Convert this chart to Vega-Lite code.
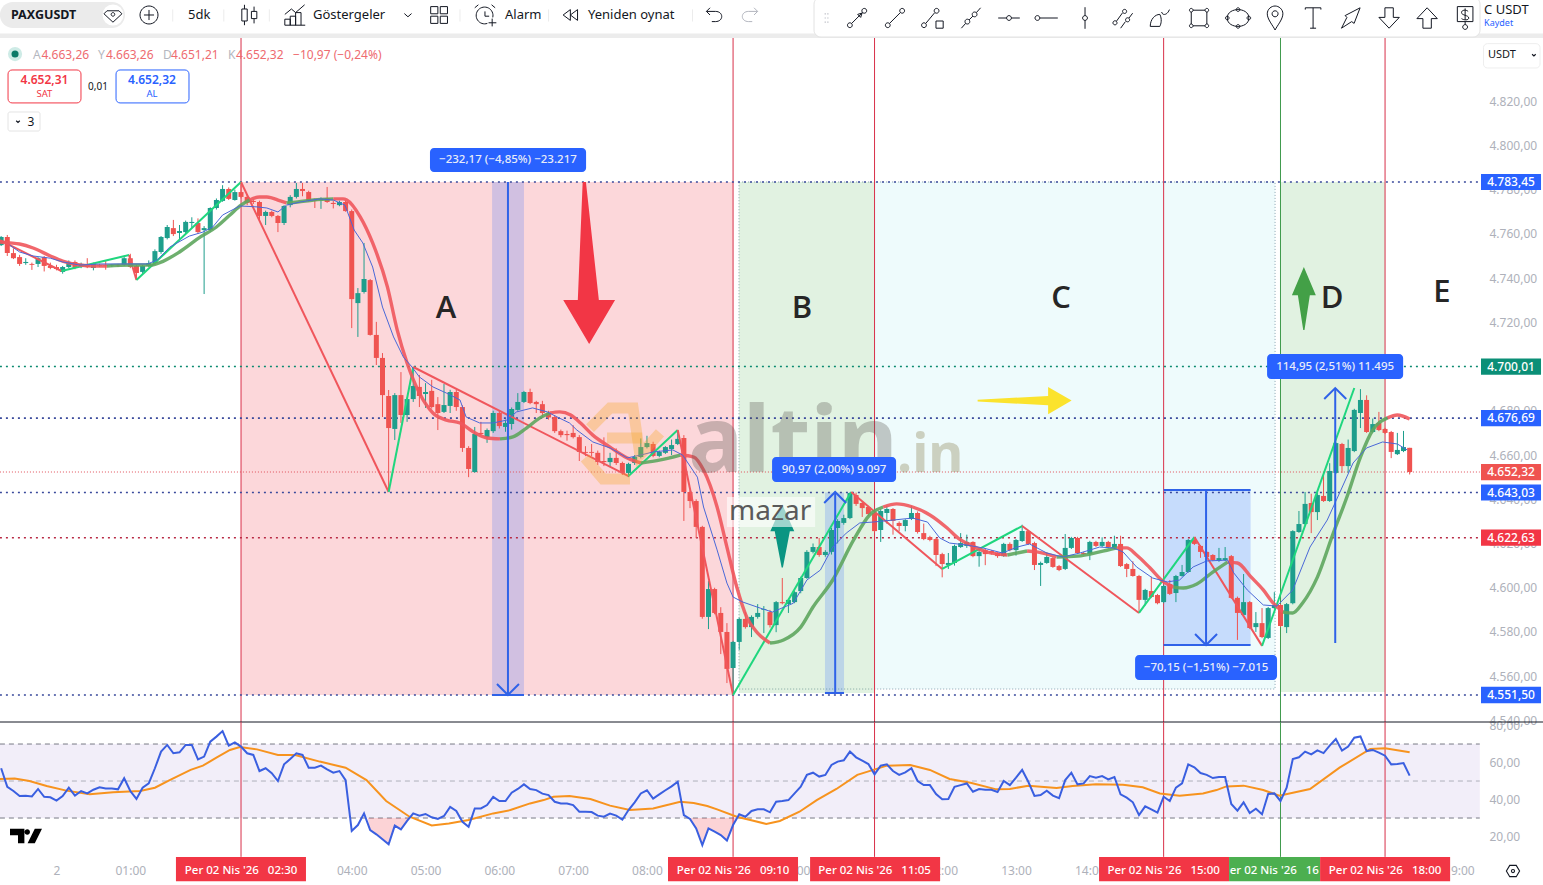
{"$schema":"https://vega.github.io/schema/vega-lite/v6.json","width":1543,"height":885,"autosize":{"type":"none"},"padding":0,"background":"white",
"config":{"view":{"stroke":null},"text":{"font":"Noto Sans"},"axis":{"labelFont":"Noto Sans"}},
"datasets":{
"candles":[
{"m":-45,"o":4754.9,"h":4759,"l":4754.5,"c":4758.6},{"m":-40,"o":4758.6,"h":4759.5,"l":4750,"c":4751.3},{"m":-35,"o":4751.3,"h":4753.5,"l":4748.6,"c":4749},{"m":-30,"o":4749.5,"h":4750.5,"l":4745.5,"c":4746.4},{"m":-25,"o":4746.8,"h":4749,"l":4746,"c":4747.3},{"m":-20,"o":4746.4,"h":4747,"l":4743.7,"c":4746},{"m":-15,"o":4746.4,"h":4749.5,"l":4745,"c":4749},{"m":-10,"o":4749.5,"h":4750,"l":4743,"c":4745.5},{"m":-5,"o":4745.5,"h":4747,"l":4744,"c":4744.6},{"m":0,"o":4745,"h":4746,"l":4743.5,"c":4744.1},
{"m":5,"o":4742.8,"h":4745.5,"l":4742,"c":4745},{"m":10,"o":4745,"h":4748,"l":4744.5,"c":4747.3},{"m":15,"o":4747.3,"h":4748,"l":4744,"c":4744.6},{"m":20,"o":4745,"h":4747,"l":4744.5,"c":4746.4},{"m":25,"o":4746.4,"h":4749,"l":4744.5,"c":4745},{"m":30,"o":4744.6,"h":4747,"l":4743.5,"c":4746.4},{"m":35,"o":4745.5,"h":4746.5,"l":4745,"c":4745.8},{"m":40,"o":4745.8,"h":4748,"l":4743.8,"c":4745.5},{"m":45,"o":4745.5,"h":4746.3,"l":4745,"c":4745.7},{"m":50,"o":4745.7,"h":4746.4,"l":4745,"c":4745.4},
{"m":55,"o":4746,"h":4749.5,"l":4745.5,"c":4749},{"m":60,"o":4749,"h":4751,"l":4744.5,"c":4745},{"m":65,"o":4745.5,"h":4746,"l":4739.1,"c":4742.3},{"m":70,"o":4742.8,"h":4746,"l":4742,"c":4745.5},{"m":75,"o":4745.5,"h":4748,"l":4745,"c":4746.8},{"m":80,"o":4746.8,"h":4753,"l":4746,"c":4752.2},{"m":85,"o":4751.8,"h":4759,"l":4751,"c":4758.6},{"m":90,"o":4758.1,"h":4764,"l":4757.5,"c":4763.1},{"m":95,"o":4762.6,"h":4766.3,"l":4759,"c":4759.9},{"m":100,"o":4760.4,"h":4764,"l":4757.6,"c":4761.3},
{"m":105,"o":4760.8,"h":4766,"l":4760,"c":4765.4},{"m":110,"o":4764.9,"h":4767.5,"l":4762.7,"c":4765.4},{"m":115,"o":4764.9,"h":4767,"l":4760,"c":4760.8},{"m":120,"o":4761.7,"h":4763.5,"l":4732.8,"c":4762.6},{"m":125,"o":4761.7,"h":4772,"l":4761,"c":4771.7},{"m":130,"o":4771.7,"h":4776,"l":4771,"c":4775.3},{"m":135,"o":4774.9,"h":4782,"l":4774.5,"c":4780.3},{"m":140,"o":4780.3,"h":4781,"l":4775.3,"c":4775.8},{"m":145,"o":4775.3,"h":4780,"l":4775,"c":4778.9},{"m":150,"o":4778.9,"h":4783.4,"l":4776,"c":4776.7},
{"m":155,"o":4776.7,"h":4778,"l":4773,"c":4774},{"m":160,"o":4774.9,"h":4775.5,"l":4773.5,"c":4774.4},{"m":165,"o":4774.4,"h":4775,"l":4766,"c":4768.1},{"m":170,"o":4768.1,"h":4770.5,"l":4764,"c":4769.9},{"m":175,"o":4769.9,"h":4770.5,"l":4767.5,"c":4768.1},{"m":180,"o":4768.1,"h":4768.5,"l":4760.8,"c":4764.9},{"m":185,"o":4764.9,"h":4773,"l":4764,"c":4772.6},{"m":190,"o":4773,"h":4777.5,"l":4772,"c":4776.7},{"m":195,"o":4776.7,"h":4783,"l":4776,"c":4780.3},{"m":200,"o":4780.3,"h":4783,"l":4777,"c":4779.4},
{"m":205,"o":4778.9,"h":4779.5,"l":4774.5,"c":4774.9},{"m":210,"o":4775.3,"h":4776,"l":4771.7,"c":4774.9},{"m":215,"o":4775.3,"h":4776.5,"l":4771.3,"c":4775.8},{"m":220,"o":4776.2,"h":4781.2,"l":4774,"c":4774.4},{"m":225,"o":4774,"h":4775,"l":4771.5,"c":4773.5},{"m":230,"o":4773,"h":4775,"l":4772.5,"c":4774.4},{"m":235,"o":4774.4,"h":4775,"l":4770,"c":4770.3},{"m":240,"o":4770.3,"h":4771,"l":4717.4,"c":4730.5},{"m":245,"o":4728.7,"h":4735.5,"l":4713.4,"c":4733.2},{"m":250,"o":4733.7,"h":4755.9,"l":4733,"c":4739.6},
{"m":255,"o":4739.1,"h":4739.6,"l":4714,"c":4714.3},{"m":260,"o":4714.3,"h":4720.2,"l":4700.7,"c":4703.9},{"m":265,"o":4703.9,"h":4706.1,"l":4677.2,"c":4687.1},{"m":270,"o":4686.7,"h":4689.4,"l":4643.3,"c":4672.2},{"m":275,"o":4671.8,"h":4688,"l":4666.8,"c":4687.1},{"m":280,"o":4687.1,"h":4697.5,"l":4674.5,"c":4678.1},{"m":285,"o":4678.1,"h":4686,"l":4675,"c":4685.3},{"m":290,"o":4685.3,"h":4699.8,"l":4684,"c":4691.2},{"m":295,"o":4690.8,"h":4696.2,"l":4681.7,"c":4686.7},{"m":300,"o":4687.6,"h":4692.5,"l":4681.3,"c":4688.5},
{"m":305,"o":4689,"h":4694,"l":4681,"c":4681.7},{"m":310,"o":4683,"h":4686.2,"l":4671.3,"c":4679},{"m":315,"o":4679.5,"h":4692.1,"l":4679,"c":4682.6},{"m":320,"o":4682.2,"h":4689.5,"l":4679,"c":4688.5},{"m":325,"o":4688.5,"h":4689.5,"l":4680,"c":4681.7},{"m":330,"o":4681.7,"h":4682.5,"l":4661.4,"c":4663.2},{"m":335,"o":4663.2,"h":4664,"l":4650,"c":4653.7},{"m":340,"o":4652.3,"h":4672.7,"l":4652,"c":4669.5},{"m":345,"o":4670,"h":4675,"l":4669,"c":4669.5},{"m":350,"o":4668.1,"h":4672,"l":4665.5,"c":4671.3},
{"m":355,"o":4670.8,"h":4680,"l":4670,"c":4679},{"m":360,"o":4679,"h":4680,"l":4672,"c":4673.1},{"m":365,"o":4672.7,"h":4676,"l":4670.5,"c":4674.5},{"m":370,"o":4674,"h":4681.5,"l":4671.5,"c":4680.8},{"m":375,"o":4680.4,"h":4688,"l":4680,"c":4684},{"m":380,"o":4684,"h":4689,"l":4683.5,"c":4688.5},{"m":385,"o":4688.5,"h":4690,"l":4683,"c":4683.5},{"m":390,"o":4684,"h":4684.5,"l":4679,"c":4683},{"m":395,"o":4683,"h":4684.5,"l":4677,"c":4679},{"m":400,"o":4679,"h":4680,"l":4676,"c":4677},
{"m":405,"o":4677.2,"h":4678,"l":4670,"c":4670.8},{"m":410,"o":4670.8,"h":4671.5,"l":4668,"c":4669},{"m":415,"o":4669.5,"h":4671,"l":4666.5,"c":4669},{"m":420,"o":4670,"h":4673.5,"l":4667.5,"c":4668.1},{"m":425,"o":4668.1,"h":4669,"l":4657.3,"c":4661.4},{"m":430,"o":4661.4,"h":4664,"l":4659.5,"c":4661},{"m":435,"o":4661.4,"h":4665,"l":4659.5,"c":4661},{"m":440,"o":4661,"h":4662,"l":4655.5,"c":4656.8},{"m":445,"o":4657.3,"h":4668,"l":4655,"c":4656.8},{"m":450,"o":4656.8,"h":4661,"l":4654.5,"c":4658.7},
{"m":455,"o":4658.7,"h":4663,"l":4655.5,"c":4656.4},{"m":460,"o":4656.4,"h":4657,"l":4651,"c":4651.9},{"m":465,"o":4651.9,"h":4656.5,"l":4650,"c":4656},{"m":470,"o":4656.4,"h":4660,"l":4655.5,"c":4659.1},{"m":475,"o":4659.1,"h":4667.5,"l":4658.5,"c":4663.6},{"m":480,"o":4663.6,"h":4668.7,"l":4663,"c":4665.4},{"m":485,"o":4665,"h":4666,"l":4659,"c":4659.6},{"m":490,"o":4659.6,"h":4662,"l":4659,"c":4661.4},{"m":495,"o":4661,"h":4664,"l":4660.5,"c":4663.6},{"m":500,"o":4662.7,"h":4667,"l":4660,"c":4664.5},
{"m":505,"o":4665,"h":4671.3,"l":4664.5,"c":4667.3},{"m":510,"o":4667.7,"h":4669,"l":4630.2,"c":4643.3},{"m":515,"o":4643.3,"h":4644,"l":4636,"c":4639.2},{"m":520,"o":4639.2,"h":4640,"l":4622.5,"c":4627.5},{"m":525,"o":4627.5,"h":4628,"l":4586,"c":4586.8},{"m":530,"o":4586.8,"h":4603,"l":4581.3,"c":4599.4},{"m":535,"o":4599.4,"h":4600,"l":4588,"c":4588.6},{"m":540,"o":4588.6,"h":4591.2,"l":4570,"c":4580},{"m":545,"o":4580,"h":4584,"l":4556.9,"c":4563.3},{"m":550,"o":4563.7,"h":4576,"l":4551.5,"c":4575.5},
{"m":555,"o":4575.5,"h":4586.5,"l":4571.9,"c":4585.9},{"m":560,"o":4585.9,"h":4589,"l":4581.5,"c":4582.2},{"m":565,"o":4582.2,"h":4587.5,"l":4577.7,"c":4586.8},{"m":570,"o":4586.8,"h":4592.6,"l":4586,"c":4588.6},{"m":575,"o":4590,"h":4591.7,"l":4579.5,"c":4590.4},{"m":580,"o":4589,"h":4590,"l":4582,"c":4583.1},{"m":585,"o":4583.1,"h":4594,"l":4579.9,"c":4593.5},{"m":590,"o":4593.5,"h":4604.4,"l":4592.5,"c":4593},{"m":595,"o":4592.6,"h":4595,"l":4588.6,"c":4594.5},{"m":600,"o":4593.5,"h":4598.5,"l":4593,"c":4598},
{"m":605,"o":4598.5,"h":4605,"l":4597.5,"c":4604.4},{"m":610,"o":4604.4,"h":4617,"l":4604,"c":4616.2},{"m":615,"o":4616.2,"h":4620,"l":4615.5,"c":4618.4},{"m":620,"o":4618.4,"h":4622.5,"l":4614,"c":4614.8},{"m":625,"o":4614.8,"h":4617,"l":4614,"c":4616.2},{"m":630,"o":4616.2,"h":4627,"l":4615,"c":4626.1},{"m":635,"o":4627,"h":4631,"l":4620,"c":4630.2},{"m":640,"o":4629.3,"h":4633,"l":4628.5,"c":4631.5},{"m":645,"o":4631.5,"h":4643,"l":4631,"c":4642.8},{"m":650,"o":4641.9,"h":4643,"l":4637,"c":4637.9},
{"m":655,"o":4638.3,"h":4639,"l":4632,"c":4636},{"m":660,"o":4636.5,"h":4637,"l":4632.5,"c":4633.3},{"m":665,"o":4633.8,"h":4634.5,"l":4625,"c":4625.6},{"m":670,"o":4626.1,"h":4635.5,"l":4620.7,"c":4634.7},{"m":675,"o":4633.8,"h":4637,"l":4629,"c":4635.6},{"m":680,"o":4635.6,"h":4636,"l":4624,"c":4630.2},{"m":685,"o":4629.3,"h":4630,"l":4625.5,"c":4627.9},{"m":690,"o":4627.9,"h":4631,"l":4625.5,"c":4630.6},{"m":695,"o":4631.1,"h":4637,"l":4630.6,"c":4633.8},{"m":700,"o":4633.8,"h":4634.5,"l":4624.5,"c":4625.2},
{"m":705,"o":4624.7,"h":4629,"l":4621.5,"c":4622},{"m":710,"o":4622.9,"h":4623.5,"l":4621,"c":4621.6},{"m":715,"o":4622,"h":4622.5,"l":4609.8,"c":4614.8},{"m":720,"o":4615.2,"h":4615.8,"l":4604.7,"c":4610.7},{"m":725,"o":4610.3,"h":4615.7,"l":4608.5,"c":4611.2},{"m":730,"o":4611.2,"h":4619.5,"l":4610,"c":4618.9},{"m":735,"o":4618.4,"h":4624.7,"l":4618,"c":4620.2},{"m":740,"o":4618.9,"h":4624,"l":4618,"c":4620.7},{"m":745,"o":4620.7,"h":4621,"l":4613.8,"c":4614.3},{"m":750,"o":4614.3,"h":4617,"l":4609.5,"c":4616.2},
{"m":755,"o":4617,"h":4617.8,"l":4610.2,"c":4615.2},{"m":760,"o":4616.6,"h":4617,"l":4615,"c":4615.7},{"m":765,"o":4615.7,"h":4616,"l":4613.5,"c":4614.3},{"m":770,"o":4614.3,"h":4620.3,"l":4614,"c":4619.8},{"m":775,"o":4619.8,"h":4620.5,"l":4616.5,"c":4617},{"m":780,"o":4617,"h":4622,"l":4614.5,"c":4621.6},{"m":785,"o":4621.1,"h":4628.5,"l":4620.7,"c":4625.6},{"m":790,"o":4625.6,"h":4626,"l":4619.3,"c":4619.8},{"m":795,"o":4620.2,"h":4620.8,"l":4608,"c":4610.3},{"m":800,"o":4610.3,"h":4611.8,"l":4600.8,"c":4611.2},
{"m":805,"o":4611.2,"h":4616,"l":4610.8,"c":4613.9},{"m":810,"o":4613.4,"h":4614,"l":4609,"c":4609.4},{"m":815,"o":4609.8,"h":4610.3,"l":4607.5,"c":4608},{"m":820,"o":4608.5,"h":4624.3,"l":4608,"c":4618},{"m":825,"o":4618,"h":4623,"l":4617.5,"c":4622.5},{"m":830,"o":4622.5,"h":4623,"l":4615.2,"c":4615.7},{"m":835,"o":4615.7,"h":4616.2,"l":4614.7,"c":4615.2},{"m":840,"o":4615.2,"h":4621.2,"l":4612.5,"c":4620.7},{"m":845,"o":4620.7,"h":4621.2,"l":4618.4,"c":4618.9},{"m":850,"o":4618.9,"h":4622.8,"l":4618.4,"c":4620.7},
{"m":855,"o":4620.7,"h":4621.2,"l":4617.9,"c":4618.4},{"m":860,"o":4618,"h":4623.5,"l":4617.5,"c":4619.8},{"m":865,"o":4619.8,"h":4623.5,"l":4609.4,"c":4609.8},{"m":870,"o":4610.7,"h":4611.2,"l":4604.8,"c":4608.5},{"m":875,"o":4608.5,"h":4612,"l":4605,"c":4605.3},{"m":880,"o":4605.3,"h":4605.8,"l":4589,"c":4594.5},{"m":885,"o":4594.5,"h":4599.5,"l":4592,"c":4599},{"m":890,"o":4598.5,"h":4605,"l":4595.3,"c":4595.8},{"m":895,"o":4596.7,"h":4597.2,"l":4592.5,"c":4593},{"m":900,"o":4593.5,"h":4601.3,"l":4593,"c":4600.8},
{"m":905,"o":4601.7,"h":4603.5,"l":4596.7,"c":4597.2},{"m":910,"o":4597.6,"h":4605.8,"l":4593.5,"c":4605.3},{"m":915,"o":4605.3,"h":4610.3,"l":4605,"c":4607.1},{"m":920,"o":4607.1,"h":4622,"l":4606.8,"c":4621.6},{"m":925,"o":4621.6,"h":4623,"l":4619.3,"c":4619.8},{"m":930,"o":4618.9,"h":4619.3,"l":4613.5,"c":4616.2},{"m":935,"o":4616.2,"h":4616.6,"l":4613.4,"c":4613.9},{"m":940,"o":4614.8,"h":4615.2,"l":4612,"c":4612.5},{"m":945,"o":4612.1,"h":4618,"l":4611.7,"c":4613.4},{"m":950,"o":4612.5,"h":4618.4,"l":4612,"c":4613.4},
{"m":955,"o":4614.3,"h":4614.8,"l":4595,"c":4595.4},{"m":960,"o":4595.4,"h":4596,"l":4576.4,"c":4588.6},{"m":965,"o":4587.7,"h":4606.2,"l":4587.2,"c":4593.5},{"m":970,"o":4593.5,"h":4594,"l":4581.3,"c":4581.8},{"m":975,"o":4582.2,"h":4589,"l":4580,"c":4584},{"m":980,"o":4584,"h":4590.8,"l":4577.2,"c":4577.7},{"m":985,"o":4577.3,"h":4591.3,"l":4576.8,"c":4590.8},{"m":990,"o":4590.8,"h":4598,"l":4590.3,"c":4592.2},{"m":995,"o":4592.2,"h":4592.7,"l":4582.2,"c":4582.7},{"m":1000,"o":4582.2,"h":4593.1,"l":4579.5,"c":4592.6},
{"m":1005,"o":4593,"h":4626,"l":4592.5,"c":4625.6},{"m":1010,"o":4625.2,"h":4634.7,"l":4624.8,"c":4628.8},{"m":1015,"o":4628.8,"h":4643.3,"l":4628.3,"c":4637.9},{"m":1020,"o":4638.3,"h":4642.5,"l":4624.7,"c":4634.2},{"m":1025,"o":4634.2,"h":4643,"l":4630.6,"c":4641.9},{"m":1030,"o":4641.5,"h":4652.3,"l":4638.8,"c":4639.2},{"m":1035,"o":4639.2,"h":4656.3,"l":4638.8,"c":4652.8},{"m":1040,"o":4651.9,"h":4666,"l":4651.4,"c":4665.4},{"m":1045,"o":4665,"h":4665.5,"l":4651.9,"c":4655},{"m":1050,"o":4655,"h":4667,"l":4651.9,"c":4663.2},
{"m":1055,"o":4661.8,"h":4680.9,"l":4661.3,"c":4680.4},{"m":1060,"o":4679,"h":4689.8,"l":4672.2,"c":4684.9},{"m":1065,"o":4684.9,"h":4687,"l":4670,"c":4670.4},{"m":1070,"o":4670.4,"h":4676.5,"l":4670,"c":4674},{"m":1075,"o":4674.5,"h":4679.5,"l":4670.8,"c":4671.3},{"m":1080,"o":4671.8,"h":4672.3,"l":4669.5,"c":4670},{"m":1085,"o":4670.4,"h":4670.9,"l":4658.6,"c":4661.4},{"m":1090,"o":4660.4,"h":4670,"l":4660,"c":4662.3},{"m":1095,"o":4661.8,"h":4670.9,"l":4661.3,"c":4663.6},{"m":1100,"o":4663.26,"h":4663.26,"l":4651.21,"c":4652.32}],
"slow":[
{"m":-46,"p":4756.3,"s":"f1"},{"m":-38,"p":4755.9,"s":"f1"},{"m":-30,"p":4755.4,"s":"f1"},{"m":-19,"p":4753.6,"s":"f1"},{"m":-5,"p":4750,"s":"f1"},{"m":5,"p":4747.7,"s":"f1"},{"m":19,"p":4745.9,"s":"f1"},{"m":30,"p":4745.5,"s":"f1"},{"m":41,"p":4745.5,"s":"f1"},
{"m":41,"p":4745.5,"s":"r1"},{"m":60,"p":4745.9,"s":"r1"},{"m":76,"p":4745.9,"s":"r1"},{"m":87,"p":4747.7,"s":"r1"},{"m":100,"p":4751.8,"s":"r1"},{"m":117,"p":4758.6,"s":"r1"},{"m":130,"p":4763.1,"s":"r1"},{"m":141,"p":4768.5,"s":"r1"},{"m":150,"p":4773,"s":"r1"},{"m":157,"p":4775.3,"s":"r1"},
{"m":157,"p":4775.3,"s":"f2"},{"m":165,"p":4776.7,"s":"f2"},{"m":171,"p":4776.7,"s":"f2"},{"m":182,"p":4774.9,"s":"f2"},{"m":187,"p":4774,"s":"f2"},
{"m":187,"p":4774,"s":"r2"},{"m":196,"p":4774.4,"s":"r2"},{"m":209,"p":4775.3,"s":"r2"},{"m":225,"p":4775.8,"s":"r2"},
{"m":225,"p":4775.8,"s":"f3"},{"m":233,"p":4775.8,"s":"f3"},{"m":236,"p":4775.3,"s":"f3"},{"m":247,"p":4767.6,"s":"f3"},{"m":257,"p":4755.9,"s":"f3"},{"m":269,"p":4736,"s":"f3"},{"m":277,"p":4716.5,"s":"f3"},{"m":285,"p":4701.6,"s":"f3"},{"m":295,"p":4688,"s":"f3"},{"m":306,"p":4679,"s":"f3"},{"m":317,"p":4675.8,"s":"f3"},{"m":328,"p":4674.5,"s":"f3"},{"m":339,"p":4670.4,"s":"f3"},{"m":350,"p":4667.7,"s":"f3"},{"m":360.5,"p":4667.3,"s":"f3"},
{"m":360.5,"p":4667.3,"s":"r3"},{"m":371,"p":4668.2,"s":"r3"},{"m":382,"p":4672.2,"s":"r3"},{"m":393,"p":4676.8,"s":"r3"},{"m":401,"p":4679,"s":"r3"},
{"m":401,"p":4679,"s":"f4"},{"m":409,"p":4679.5,"s":"f4"},{"m":418,"p":4678.1,"s":"f4"},{"m":426,"p":4674.5,"s":"f4"},{"m":436,"p":4669,"s":"f4"},{"m":450,"p":4663.6,"s":"f4"},{"m":464,"p":4658.7,"s":"f4"},{"m":475,"p":4656.4,"s":"f4"},
{"m":475,"p":4656.4,"s":"r4"},{"m":491,"p":4657.8,"s":"r4"},{"m":507,"p":4660,"s":"r4"},
{"m":507,"p":4660,"s":"f5"},{"m":518,"p":4659.1,"s":"f5"},{"m":526,"p":4653.2,"s":"f5"},{"m":537,"p":4636.5,"s":"f5"},{"m":545,"p":4618.4,"s":"f5"},{"m":553,"p":4600.3,"s":"f5"},{"m":561,"p":4586.8,"s":"f5"},{"m":570,"p":4579.5,"s":"f5"},{"m":580,"p":4575,"s":"f5"},
{"m":580,"p":4575,"s":"r5"},{"m":591,"p":4576.4,"s":"r5"},{"m":605,"p":4582.2,"s":"r5"},{"m":615,"p":4591.3,"s":"r5"},{"m":631,"p":4603.5,"s":"r5"},{"m":648,"p":4621.6,"s":"r5"},{"m":661,"p":4632.9,"s":"r5"},{"m":672,"p":4636.5,"s":"r5"},
{"m":672,"p":4636.5,"s":"f6"},{"m":683,"p":4637.9,"s":"f6"},{"m":696,"p":4636.5,"s":"f6"},{"m":710,"p":4632.9,"s":"f6"},{"m":724,"p":4627,"s":"f6"},{"m":734,"p":4622,"s":"f6"},{"m":743,"p":4619.3,"s":"f6"},{"m":756,"p":4616.2,"s":"f6"},{"m":773,"p":4614.8,"s":"f6"},
{"m":773,"p":4614.8,"s":"r6"},{"m":789,"p":4616.6,"s":"r6"},
{"m":789,"p":4616.6,"s":"f7"},{"m":797,"p":4616.2,"s":"f7"},{"m":813,"p":4613.9,"s":"f7"},
{"m":813,"p":4613.9,"s":"r7"},{"m":830,"p":4614.3,"s":"r7"},{"m":848,"p":4616.2,"s":"r7"},{"m":862,"p":4618,"s":"r7"},
{"m":862,"p":4618,"s":"f8"},{"m":870,"p":4618,"s":"f8"},{"m":878,"p":4614.8,"s":"f8"},{"m":889,"p":4608.9,"s":"f8"},{"m":900,"p":4602.6,"s":"f8"},{"m":908,"p":4600.3,"s":"f8"},
{"m":908,"p":4600.3,"s":"r8"},{"m":916,"p":4599.9,"s":"r8"},{"m":927,"p":4601.7,"s":"r8"},{"m":940,"p":4607.1,"s":"r8"},{"m":952,"p":4611.6,"s":"r8"},
{"m":952,"p":4611.6,"s":"f9"},{"m":960,"p":4611.2,"s":"f9"},{"m":971,"p":4604.9,"s":"f9"},{"m":981,"p":4599,"s":"f9"},{"m":989,"p":4593.1,"s":"f9"},{"m":997,"p":4589,"s":"f9"},
{"m":997,"p":4589,"s":"r9"},{"m":1005,"p":4588.6,"s":"r9"},{"m":1013,"p":4593.1,"s":"r9"},{"m":1025,"p":4604.8,"s":"r9"},{"m":1038,"p":4624.8,"s":"r9"},{"m":1049,"p":4641,"s":"r9"},{"m":1060,"p":4659.1,"s":"r9"},{"m":1070,"p":4671.3,"s":"r9"},{"m":1082,"p":4676.8,"s":"r9"},
{"m":1082,"p":4676.8,"s":"f10"},{"m":1090,"p":4678.1,"s":"f10"},{"m":1100,"p":4676.3,"s":"f10"}],
"fast":[{"m":-38,"p":4754.9},{"m":-30,"p":4751.8},{"m":-19,"p":4750},{"m":-5,"p":4749},{"m":5,"p":4747.3},{"m":19,"p":4745.9},{"m":35,"p":4746.4},{"m":57,"p":4746.4},{"m":74,"p":4746.4},{"m":82,"p":4748.2},{"m":92,"p":4754},{"m":108,"p":4759},{"m":119,"p":4760.8},{"m":127,"p":4763.1},{"m":135,"p":4768.5},{"m":149,"p":4772.6},{"m":163,"p":4772.2},{"m":171,"p":4771.7},{"m":180,"p":4769.9},{"m":187,"p":4773},{"m":198,"p":4774.4},{"m":214,"p":4775.8},{"m":225,"p":4775.3},{"m":234.5,"p":4773},{"m":242,"p":4761.7},{"m":249,"p":4755.9},{"m":257,"p":4745},{"m":265,"p":4726.9},{"m":274,"p":4713.4},{"m":282,"p":4704.3},{"m":289,"p":4699.8},{"m":295,"p":4695.3},{"m":306,"p":4690.8},{"m":317,"p":4688},{"m":328,"p":4684.9},{"m":333,"p":4677.2},{"m":344,"p":4674.5},{"m":355,"p":4674.5},{"m":366,"p":4675.8},{"m":374,"p":4679.5},{"m":387,"p":4681.3},{"m":399,"p":4679.5},{"m":407,"p":4677.2},{"m":417,"p":4674.5},{"m":423,"p":4671.3},{"m":436,"p":4665.9},{"m":450,"p":4663.2},{"m":464,"p":4658.7},{"m":475,"p":4660},{"m":485,"p":4661.4},{"m":501,"p":4662.3},{"m":509,"p":4660},{"m":521,"p":4650},{"m":526,"p":4636.5},{"m":537,"p":4617.1},{"m":545,"p":4602.1},{"m":550,"p":4595.8},{"m":558,"p":4593.5},{"m":572,"p":4590.8},{"m":582,"p":4589},{"m":599,"p":4593},{"m":610,"p":4603.5},{"m":621,"p":4608},{"m":631,"p":4618.4},{"m":642,"p":4624.7},{"m":653,"p":4629.3},{"m":664,"p":4629.7},{"m":680,"p":4630.6},{"m":696,"p":4631.5},{"m":708,"p":4629.7},{"m":718,"p":4622.5},{"m":726,"p":4620.2},{"m":740,"p":4619.3},{"m":753,"p":4618},{"m":769,"p":4615.7},{"m":781,"p":4618.4},{"m":791,"p":4619.8},{"m":805,"p":4615.7},{"m":818,"p":4613.9},{"m":832,"p":4615.7},{"m":848,"p":4618.4},{"m":859,"p":4618},{"m":867,"p":4616.2},{"m":878,"p":4609.4},{"m":891,"p":4604.4},{"m":903,"p":4602.6},{"m":913,"p":4603.5},{"m":924,"p":4609.4},{"m":935,"p":4612.1},{"m":952,"p":4612.5},{"m":957,"p":4606.7},{"m":968,"p":4599},{"m":981,"p":4592.2},{"m":992,"p":4591.7},{"m":1005,"p":4599},{"m":1019,"p":4618.4},{"m":1033,"p":4630.6},{"m":1043,"p":4642.8},{"m":1054,"p":4656.4},{"m":1065,"p":4663.2},{"m":1078,"p":4665.9},{"m":1090,"p":4665},{"m":1098,"p":4662.3}],
"zigzag":[{"m":-46,"p":4757.2,"s":"f0"},{"m":4,"p":4743.2,"s":"f0"},{"m":4,"p":4743.2,"s":"r1"},{"m":59,"p":4750.4,"s":"r1"},{"m":59,"p":4750.4,"s":"f1"},{"m":65,"p":4739.1,"s":"f1"},{"m":65,"p":4739.1,"s":"r2"},{"m":150,"p":4783.45,"s":"r2"},{"m":150,"p":4783.45,"s":"f2"},{"m":270,"p":4643.3,"s":"f2"},{"m":270,"p":4643.3,"s":"r3"},{"m":290,"p":4699.8,"s":"r3"},{"m":290,"p":4699.8,"s":"f3"},{"m":465,"p":4650.5,"s":"f3"},{"m":465,"p":4650.5,"s":"r4"},{"m":505,"p":4671.3,"s":"r4"},{"m":505,"p":4671.3,"s":"f4"},{"m":550,"p":4551.5,"s":"f4"},{"m":550,"p":4551.5,"s":"r5"},{"m":646,"p":4643.3,"s":"r5"},{"m":646,"p":4643.3,"s":"f5"},{"m":720,"p":4608.5,"s":"f5"},{"m":720,"p":4608.5,"s":"r6"},{"m":785,"p":4627.9,"s":"r6"},{"m":785,"p":4627.9,"s":"f6"},{"m":880,"p":4588.6,"s":"f6"},{"m":880,"p":4588.6,"s":"r7"},{"m":925,"p":4622.9,"s":"r7"},{"m":925,"p":4622.9,"s":"f7"},{"m":980,"p":4573.7,"s":"f7"},{"m":980,"p":4573.7,"s":"r8"},{"m":1055,"p":4690.3,"s":"r8"}],
"rsi":[{"m":-45,"r":56.9},{"m":-40,"r":46.9},{"m":-35,"r":44.6},{"m":-30,"r":41.9},{"m":-25,"r":42.1},{"m":-20,"r":41.7},{"m":-15,"r":45.7},{"m":-10,"r":41.5},{"m":-5,"r":41.2},{"m":0,"r":39.4},{"m":5,"r":41.9},{"m":10,"r":46.4},{"m":15,"r":42.1},{"m":20,"r":44.6},{"m":25,"r":43.3},{"m":30,"r":45.3},{"m":35,"r":46.6},{"m":40,"r":46},{"m":45,"r":46},{"m":50,"r":45.5},{"m":55,"r":51.5},{"m":60,"r":44.6},{"m":65,"r":40.3},{"m":70,"r":46.4},{"m":75,"r":48.7},{"m":80,"r":56.9},{"m":85,"r":65.9},{"m":90,"r":69.5},{"m":95,"r":65},{"m":100,"r":65.5},{"m":105,"r":69.5},{"m":110,"r":69.5},{"m":115,"r":61.7},{"m":120,"r":63.2},{"m":125,"r":71.3},{"m":130,"r":74},{"m":135,"r":77},{"m":140,"r":69.1},{"m":145,"r":70.9},{"m":150,"r":68.6},{"m":155,"r":65},{"m":160,"r":64.1},{"m":165,"r":55.4},{"m":170,"r":56.9},{"m":175,"r":54.2},{"m":180,"r":50},{"m":185,"r":59},{"m":190,"r":61.9},{"m":195,"r":65},{"m":200,"r":64.1},{"m":205,"r":57.2},{"m":210,"r":57.2},{"m":215,"r":58.3},{"m":220,"r":56.3},{"m":225,"r":54.5},{"m":230,"r":55.4},{"m":235,"r":50.5},{"m":240,"r":23},{"m":245,"r":26.2},{"m":250,"r":32.5},{"m":255,"r":23.5},{"m":260,"r":21.2},{"m":265,"r":18.5},{"m":270,"r":15.8},{"m":275,"r":25.9},{"m":280,"r":23.9},{"m":285,"r":28.4},{"m":290,"r":32.5},{"m":295,"r":31.3},{"m":300,"r":32.2},{"m":305,"r":30.4},{"m":310,"r":29.5},{"m":315,"r":31.1},{"m":320,"r":36},{"m":325,"r":33.8},{"m":330,"r":28},{"m":335,"r":25.3},{"m":340,"r":35.2},{"m":345,"r":35.2},{"m":350,"r":37},{"m":355,"r":41.4},{"m":360,"r":39.2},{"m":365,"r":39.2},{"m":370,"r":43.7},{"m":375,"r":45.7},{"m":380,"r":48.2},{"m":385,"r":45.7},{"m":390,"r":45.1},{"m":395,"r":43.2},{"m":400,"r":42.4},{"m":405,"r":38.8},{"m":410,"r":37.9},{"m":415,"r":37.8},{"m":420,"r":37},{"m":425,"r":33.4},{"m":430,"r":33.4},{"m":435,"r":33.2},{"m":440,"r":31.3},{"m":445,"r":30.7},{"m":450,"r":32.4},{"m":455,"r":31.3},{"m":460,"r":29.1},{"m":465,"r":34.3},{"m":470,"r":38.5},{"m":475,"r":43.3},{"m":480,"r":45},{"m":485,"r":40.5},{"m":490,"r":42.8},{"m":495,"r":45},{"m":500,"r":47.1},{"m":505,"r":49.6},{"m":510,"r":31.6},{"m":515,"r":29.5},{"m":520,"r":24.4},{"m":525,"r":15.4},{"m":530,"r":24.4},{"m":535,"r":22.6},{"m":540,"r":20.8},{"m":545,"r":17.8},{"m":550,"r":26.2},{"m":555,"r":32},{"m":560,"r":30.7},{"m":565,"r":33.8},{"m":570,"r":34.7},{"m":575,"r":34.7},{"m":580,"r":33.1},{"m":585,"r":38.8},{"m":590,"r":39.2},{"m":595,"r":39.7},{"m":600,"r":43.3},{"m":605,"r":46.9},{"m":610,"r":53.3},{"m":615,"r":54.5},{"m":620,"r":52.4},{"m":625,"r":53.3},{"m":630,"r":58.7},{"m":635,"r":60.5},{"m":640,"r":61.2},{"m":645,"r":65.9},{"m":650,"r":62.8},{"m":655,"r":61},{"m":660,"r":59.2},{"m":665,"r":53.6},{"m":670,"r":58.3},{"m":675,"r":59},{"m":680,"r":55.4},{"m":685,"r":53.3},{"m":690,"r":54.7},{"m":695,"r":56.9},{"m":700,"r":50},{"m":705,"r":47.8},{"m":710,"r":47.8},{"m":715,"r":43},{"m":720,"r":40.1},{"m":725,"r":40.3},{"m":730,"r":46.9},{"m":735,"r":47.8},{"m":740,"r":48.7},{"m":745,"r":44.2},{"m":750,"r":45.7},{"m":755,"r":45.3},{"m":760,"r":45.3},{"m":765,"r":44.1},{"m":770,"r":50},{"m":775,"r":47.8},{"m":780,"r":51.8},{"m":785,"r":56},{"m":790,"r":49.6},{"m":795,"r":41.9},{"m":800,"r":42.4},{"m":805,"r":44.8},{"m":810,"r":42.1},{"m":815,"r":40.7},{"m":820,"r":50.5},{"m":825,"r":54.5},{"m":830,"r":48.2},{"m":835,"r":48.7},{"m":840,"r":52.7},{"m":845,"r":51.8},{"m":850,"r":52.7},{"m":855,"r":50.9},{"m":860,"r":52.2},{"m":865,"r":42.8},{"m":870,"r":41},{"m":875,"r":38.5},{"m":880,"r":31.6},{"m":885,"r":36.3},{"m":890,"r":34.7},{"m":895,"r":32.9},{"m":900,"r":41.5},{"m":905,"r":39.2},{"m":910,"r":46.4},{"m":915,"r":48.7},{"m":920,"r":59},{"m":925,"r":57.4},{"m":930,"r":54.3},{"m":935,"r":53.3},{"m":940,"r":51.6},{"m":945,"r":52.2},{"m":950,"r":52.2},{"m":955,"r":37.6},{"m":960,"r":34},{"m":965,"r":38.5},{"m":970,"r":32.7},{"m":975,"r":35},{"m":980,"r":32},{"m":985,"r":43},{"m":990,"r":43.3},{"m":995,"r":39.2},{"m":1000,"r":46.4},{"m":1005,"r":61.9},{"m":1010,"r":62.8},{"m":1015,"r":65.9},{"m":1020,"r":64.4},{"m":1025,"r":66.6},{"m":1030,"r":65.1},{"m":1035,"r":69.1},{"m":1040,"r":72.7},{"m":1045,"r":66.4},{"m":1050,"r":68.6},{"m":1055,"r":73.4},{"m":1060,"r":74.1},{"m":1065,"r":66.2},{"m":1070,"r":66.8},{"m":1075,"r":65.3},{"m":1080,"r":63.7},{"m":1085,"r":59},{"m":1090,"r":59.2},{"m":1095,"r":59.7},{"m":1100,"r":52.9}],
"rsima":[{"m":-46,"r":51.1},{"m":-34,"r":51.4},{"m":-22,"r":50},{"m":-8,"r":47.3},{"m":8,"r":44.8},{"m":27,"r":42.8},{"m":46,"r":43.9},{"m":68,"r":44.6},{"m":80,"r":46.4},{"m":92,"r":50.5},{"m":109,"r":56},{"m":119,"r":58.3},{"m":130,"r":62.6},{"m":141,"r":66.8},{"m":149,"r":68.4},{"m":163,"r":67.1},{"m":180,"r":64.1},{"m":194,"r":64.1},{"m":214,"r":60.5},{"m":235,"r":57.2},{"m":252,"r":50.5},{"m":268,"r":39.2},{"m":287,"r":30.7},{"m":305,"r":26},{"m":319,"r":27.1},{"m":335,"r":28.9},{"m":355,"r":32.5},{"m":369,"r":34.3},{"m":385,"r":37.9},{"m":396,"r":39.7},{"m":404,"r":41.5},{"m":417,"r":41.9},{"m":434,"r":40.3},{"m":450,"r":36.7},{"m":466,"r":34.3},{"m":485,"r":35.2},{"m":507,"r":38.8},{"m":518,"r":38.1},{"m":529,"r":36.5},{"m":537,"r":34.7},{"m":553,"r":30.7},{"m":564,"r":28.9},{"m":577,"r":26.8},{"m":588,"r":28.4},{"m":604,"r":33.4},{"m":618,"r":39.7},{"m":634,"r":45.7},{"m":651,"r":53.3},{"m":664,"r":56},{"m":675,"r":58.3},{"m":694,"r":58.7},{"m":710,"r":56},{"m":726,"r":51.1},{"m":743,"r":49.1},{"m":764,"r":45.5},{"m":775,"r":45.7},{"m":790,"r":47.5},{"m":813,"r":46.2},{"m":826,"r":47.3},{"m":845,"r":48.2},{"m":867,"r":48},{"m":883,"r":46.6},{"m":897,"r":43.3},{"m":913,"r":42.1},{"m":932,"r":43.3},{"m":943,"r":45.1},{"m":951,"r":47.1},{"m":965,"r":47.5},{"m":981,"r":45.1},{"m":994,"r":42.1},{"m":1019,"r":45.7},{"m":1043,"r":57.2},{"m":1068,"r":67.3},{"m":1080,"r":67.7},{"m":1100,"r":65.5}],
"rsilow":[{"m":253,"r":30,"s":"a"},{"m":255,"r":23.5,"s":"a"},{"m":260,"r":21.2,"s":"a"},{"m":265,"r":18.5,"s":"a"},{"m":270,"r":15.8,"s":"a"},{"m":275,"r":25.9,"s":"a"},{"m":280,"r":23.9,"s":"a"},{"m":285,"r":28.4,"s":"a"},{"m":288,"r":30,"s":"a"},{"m":514,"r":30,"s":"b"},{"m":515,"r":29.5,"s":"b"},{"m":520,"r":24.4,"s":"b"},{"m":525,"r":15.4,"s":"b"},{"m":530,"r":24.4,"s":"b"},{"m":535,"r":22.6,"s":"b"},{"m":540,"r":20.8,"s":"b"},{"m":545,"r":17.8,"s":"b"},{"m":550,"r":26.2,"s":"b"},{"m":553,"r":30,"s":"b"}]
},
"encoding":{"x":{"field":"m","type":"quantitative","title":null,"scale":{"domain":[-45.93,1208.4],"nice":false,"zero":false,"padding":0},"axis":{"orient":"bottom","offset":-26,"values":[0,60,120,180,240,300,360,420,480,540,600,660,720,780,840,900,960,1020,1080,1140],"labelExpr":"datum.value==0?'2':(datum.value<600?'0':'')+floor(datum.value/60)+':00'","labelColor":"#aeb1ba","labelFontSize":12,"labelPadding":6,"ticks":false,"domain":false,"grid":false,"labelOverlap":false,"labelBound":false,"labelFlush":false}}},
"resolve":{"scale":{"y":"independent"},"axis":{"y":"independent"}},
"layer":[
{"encoding":{"y":{"field":"p","type":"quantitative","title":null,"scale":{"domain":[4539.29,4865.74],"range":[722,0],"nice":false,"zero":false},"axis":{"orient":"right","offset":-63,"values":[4820,4800,4780,4760,4740,4720,4700,4680,4660,4640,4620,4600,4580,4560,4540],"labelExpr":"replace(replace(replace(format(datum.value,',.2f'),'.',';'),',','.'),';',',')","labelColor":"#aeb1ba","labelFontSize":12,"labelPadding":9,"ticks":false,"domain":false,"grid":false,"labelOverlap":false,"labelBound":false,"labelFlush":false}}},
"layer":[
{"data":{"values":[{"m":664.6,"m2":990.6,"p":4783.45,"p2":4554.2}]},"mark":{"type":"rect","fill":"#00bcd4","fillOpacity":0.065},"encoding":{"x2":{"field":"m2"},"y2":{"field":"p2"}}},
{"data":{"values":[{"m":554.8,"m2":990.6,"p":4783.45,"p2":4554.2}]},"mark":{"type":"rect","fill":"transparent","stroke":"#8aa3b0","strokeDash":[1,2],"strokeWidth":1},"encoding":{"x2":{"field":"m2"},"y2":{"field":"p2"}}},
{"data":{"values":[{"m":150,"m2":550,"p":4783.45,"p2":4551.5}]},"mark":{"type":"rect","fill":"#f23645","fillOpacity":0.2},"encoding":{"x2":{"field":"m2"},"y2":{"field":"p2"}}},
{"data":{"values":[{"m":554.8,"m2":664.6,"p":4783.45,"p2":4552.4},{"m":995,"m2":1080,"p":4783.45,"p2":4552.9}]},"mark":{"type":"rect","fill":"#4caf50","fillOpacity":0.17},"encoding":{"x2":{"field":"m2"},"y2":{"field":"p2"}}},
{"data":{"values":[{"m":354.1,"m2":380,"p":4783.45,"p2":4551.5},{"m":624.7,"m2":640.2,"p":4643.03,"p2":4552.4},{"m":900,"m2":970.7,"p":4644.2,"p2":4574.1}]},"mark":{"type":"rect","fill":"#2962ff","fillOpacity":0.2},"encoding":{"x2":{"field":"m2"},"y2":{"field":"p2"}}},
{"data":{"values":[{"m":150,"p":4865.7,"p2":4539.3},{"m":550,"p":4865.7,"p2":4539.3},{"m":665,"p":4865.7,"p2":4539.3},{"m":900,"p":4865.7,"p2":4539.3},{"m":1080,"p":4865.7,"p2":4539.3}]},"mark":{"type":"rule","color":"#d8304a","strokeWidth":1},"encoding":{"y2":{"field":"p2"}}},
{"data":{"values":[{"m":995,"p":4865.7,"p2":4539.3}]},"mark":{"type":"rule","color":"#3f9a4c","strokeWidth":1},"encoding":{"y2":{"field":"p2"}}},
{"data":{"values":[{"m":-46,"m2":1157,"p":4783.45,"k":"blue"},{"m":-46,"m2":1157,"p":4700.01,"k":"green"},{"m":-46,"m2":1157,"p":4676.69,"k":"blue"},{"m":-46,"m2":1157,"p":4643.03,"k":"blue"},{"m":-46,"m2":1157,"p":4622.63,"k":"red"},{"m":-46,"m2":1157,"p":4551.5,"k":"blue"}]},"mark":{"type":"rule","strokeWidth":1.6,"strokeDash":[2,4]},"encoding":{"x2":{"field":"m2"},"stroke":{"field":"k","type":"nominal","legend":null,"scale":{"domain":["blue","green","red"],"range":["#3a4a9c","#0b8a70","#b82a44"]}}}},
{"data":{"values":[{"m":-46,"m2":1157,"p":4652.32}]},"mark":{"type":"rule","strokeWidth":1,"strokeDash":[1,2],"color":"#e0505a"},"encoding":{"x2":{"field":"m2"}}},
{"data":{"name":"candles"},"mark":{"type":"rule","strokeWidth":1},"encoding":{"y":{"field":"h","type":"quantitative","title":null,"scale":{"domain":[4539.29,4865.74],"range":[722,0],"nice":false,"zero":false},"axis":{"orient":"right","offset":-63,"values":[4820,4800,4780,4760,4740,4720,4700,4680,4660,4640,4620,4600,4580,4560,4540],"labelExpr":"replace(replace(replace(format(datum.value,',.2f'),'.',';'),',','.'),';',',')","labelColor":"#aeb1ba","labelFontSize":12,"labelPadding":9,"ticks":false,"domain":false,"grid":false,"labelOverlap":false,"labelBound":false,"labelFlush":false}},"y2":{"field":"l"},"color":{"condition":{"test":"datum.c>=datum.o","value":"#1e9e8c"},"value":"#ef5350"}}},
{"data":{"name":"candles"},"mark":{"type":"bar","size":5,"orient":"vertical"},"encoding":{"y":{"field":"o","type":"quantitative","title":null,"scale":{"domain":[4539.29,4865.74],"range":[722,0],"nice":false,"zero":false},"axis":{"orient":"right","offset":-63,"values":[4820,4800,4780,4760,4740,4720,4700,4680,4660,4640,4620,4600,4580,4560,4540],"labelExpr":"replace(replace(replace(format(datum.value,',.2f'),'.',';'),',','.'),';',',')","labelColor":"#aeb1ba","labelFontSize":12,"labelPadding":9,"ticks":false,"domain":false,"grid":false,"labelOverlap":false,"labelBound":false,"labelFlush":false}},"y2":{"field":"c"},"color":{"condition":{"test":"datum.c>=datum.o","value":"#1e9e8c"},"value":"#ef5350"}}},
{"data":{"name":"zigzag"},"mark":{"type":"line","strokeWidth":2},"encoding":{"detail":{"field":"s"},"color":{"condition":{"test":"indexof(datum.s,'f')==0","value":"#f0565c"},"value":"#1fd67e"}}},
{"data":{"name":"slow"},"mark":{"type":"line","strokeWidth":3.4,"interpolate":"monotone","opacity":0.9},"encoding":{"detail":{"field":"s"},"color":{"condition":{"test":"indexof(datum.s,'f')==0","value":"#f0575c"},"value":"#5ea65e"}}},
{"data":{"name":"fast"},"mark":{"type":"line","strokeWidth":1,"color":"#4a68d8"},"encoding":{}},
{"data":{"values":[{"m":433.7,"p":4672.2,"s":"a"},{"m":450,"p":4681.3,"s":"a"},{"m":468.7,"p":4681.3,"s":"a"},{"m":490.6,"p":4670,"s":"a"},{"m":474.3,"p":4660,"s":"a"},{"m":447.5,"p":4667.7,"s":"b"},{"m":476,"p":4667.7,"s":"b"},{"m":429.6,"p":4658.7,"s":"c"},{"m":444.3,"p":4649.2,"s":"c"},{"m":466.2,"p":4649.2,"s":"c"}]},"mark":{"type":"line","strokeWidth":11,"color":"#f5a623","opacity":0.33},"encoding":{"detail":{"field":"s"}}},
{"data":{"values":[{"m":513.3,"p":4652.3,"t":"altin"}]},"mark":{"type":"text","align":"left","baseline":"alphabetic","fontSize":92,"fontWeight":"bold","color":"#54514c","opacity":0.3},"encoding":{"text":{"field":"t"}}},
{"data":{"values":[{"m":683.3,"p":4652.3,"t":".in"}]},"mark":{"type":"text","align":"left","baseline":"alphabetic","fontSize":54,"fontWeight":"bold","color":"#8c8254","opacity":0.35},"encoding":{"text":{"field":"t"}}},
{"data":{"values":[{"m":590,"p":4623.4}]},"mark":{"type":"point","filled":true,"opacity":1,"color":"#0a9582","size":3969,"shape":"M0,-1L.38,-.15L.24,-.15L.02,1L-.02,1L-.24,-.15L-.38,-.15Z"},"encoding":{}},
{"data":{"values":[{"m":545,"m2":616.7,"p":4641,"p2":4627.5}]},"mark":{"type":"rect","fill":"white","fillOpacity":0.6},"encoding":{"x2":{"field":"m2"},"y2":{"field":"p2"}}},
{"data":{"values":[{"m":546.7,"p":4630.6,"t":"mazar"}]},"mark":{"type":"text","align":"left","baseline":"alphabetic","fontSize":28,"color":"#5a5a5a"},"encoding":{"text":{"field":"t"}}},
{"data":{"values":[{"m":433,"p":4746.8}]},"mark":{"type":"point","filled":true,"opacity":1,"color":"#f23645","size":26244,"shape":"M-.08,-1L-.04,-1L.12,.457L.32,.457L0,1L-.32,.457L-.14,.457Z"},"encoding":{}},
{"data":{"values":[{"m":1014,"p":4730.8}]},"mark":{"type":"point","filled":true,"opacity":1,"color":"#43a047","size":3969,"shape":"M0,-1L.38,-.1L.19,-.1L.02,1L-.02,1L-.19,-.1L-.38,-.1Z"},"encoding":{}},
{"data":{"values":[{"m":787,"p":4684.6}]},"mark":{"type":"point","filled":true,"opacity":1,"color":"#fbe32d","size":8836,"shape":"M-1,-.02L.5,-.1L.5,-.29L1,0L.5,.29L.5,.1L-1,.02Z"},"encoding":{}},
{"data":{"values":[{"m":367,"p":4783.45,"p2":4551.5},{"m":633,"p":4643.03,"p2":4552.4},{"m":934.5,"p":4644.2,"p2":4574.1},{"m":1039.5,"p":4690.3,"p2":4575}]},"mark":{"type":"rule","color":"#2f62e8","strokeWidth":2},"encoding":{"y2":{"field":"p2"}}},
{"data":{"values":[{"m":900,"m2":970.7,"p":4644.2},{"m":900,"m2":970.7,"p":4574.1},{"m":624.7,"m2":640.2,"p":4552.4},{"m":354.1,"m2":380,"p":4551.5}]},"mark":{"type":"rule","color":"#2f62e8","strokeWidth":2},"encoding":{"x2":{"field":"m2"}}},
{"data":{"values":[{"m":633,"p":4640.8},{"m":1039.5,"p":4687.8}]},"mark":{"type":"point","filled":false,"opacity":1,"color":"#2f62e8","strokeWidth":2,"size":484,"shape":"M-1,.5L0,-.5L1,.5"},"encoding":{}},
{"data":{"values":[{"m":367,"p":4554},{"m":934.5,"p":4576.6}]},"mark":{"type":"point","filled":false,"opacity":1,"color":"#2f62e8","strokeWidth":2,"size":484,"shape":"M-1,-.5L0,.5L1,-.5"},"encoding":{}},
{"data":{"values":[{"m":303.6,"m2":430.5,"p":4798.8,"p2":4788},{"m":581.7,"m2":682.5,"p":4659.1,"p2":4647.8},{"m":876.8,"m2":992.2,"p":4569.6,"p2":4558.3},{"m":984.1,"m2":1094.7,"p":4705.7,"p2":4694.4}]},"mark":{"type":"rect","fill":"#2962ff","cornerRadius":4},"encoding":{"x2":{"field":"m2"},"y2":{"field":"p2"}}},
{"data":{"values":[{"m":367,"p":4793.4,"t":"−232,17 (−4,85%) −23.217"},{"m":632.1,"p":4653.2,"t":"90,97 (2,00%) 9.097"},{"m":934.5,"p":4563.9,"t":"−70,15 (−1,51%) −7.015"},{"m":1039.4,"p":4700,"t":"114,95 (2,51%) 11.495"}]},"mark":{"type":"text","fontSize":11.5,"fontWeight":500,"color":"#e8ecf8"},"encoding":{"text":{"field":"t"}}},
{"data":{"values":[{"m":316.6,"p":4726,"t":"A"},{"m":606,"p":4726,"t":"B"},{"m":816.6,"p":4730.5,"t":"C"},{"m":1036.9,"p":4730.5,"t":"D"},{"m":1126.3,"p":4733.2,"t":"E"}]},"mark":{"type":"text","font":"Open Sans","fontSize":31,"fontWeight":600,"color":"#262626"},"encoding":{"text":{"field":"t"}}},
{"data":{"values":[{"m":1158,"m2":1206.8,"p":4787.1,"p2":4779.8,"k":"blue"},{"m":1158,"m2":1206.8,"p":4703.7,"p2":4696.3,"k":"green"},{"m":1158,"m2":1206.8,"p":4680.4,"p2":4673,"k":"blue"},{"m":1158,"m2":1206.8,"p":4656,"p2":4648.6,"k":"last"},{"m":1158,"m2":1206.8,"p":4646.7,"p2":4639.4,"k":"blue"},{"m":1158,"m2":1206.8,"p":4626.3,"p2":4619,"k":"red"},{"m":1158,"m2":1206.8,"p":4555.2,"p2":4547.8,"k":"blue"}]},"mark":{"type":"rect"},"encoding":{"x2":{"field":"m2"},"y2":{"field":"p2"},"fill":{"field":"k","type":"nominal","legend":null,"scale":{"domain":["blue","green","red","last"],"range":["#2962ff","#0b8f77","#f23645","#ef5350"]}}}},
{"data":{"values":[{"m":1182.4,"p":4783.45,"t":"4.783,45"},{"m":1182.4,"p":4700.01,"t":"4.700,01"},{"m":1182.4,"p":4676.69,"t":"4.676,69"},{"m":1182.4,"p":4652.32,"t":"4.652,32"},{"m":1182.4,"p":4643.03,"t":"4.643,03"},{"m":1182.4,"p":4622.63,"t":"4.622,63"},{"m":1182.4,"p":4551.5,"t":"4.551,50"}]},"mark":{"type":"text","fontSize":12,"fontWeight":500,"color":"white"},"encoding":{"text":{"field":"t"}}},
{"data":{"values":[{"m":-46,"m2":1208.4,"p":4865.74,"p2":4849.5}]},"mark":{"type":"rect","fill":"white"},"encoding":{"x2":{"field":"m2"},"y2":{"field":"p2"}}},
{"data":{"values":[{"m":-46,"m2":1208.4,"p":4850.6,"p2":4848.6}]},"mark":{"type":"rect","fill":"#ececec"},"encoding":{"x2":{"field":"m2"},"y2":{"field":"p2"}}},
{"data":{"values":[{"m":615.8,"m2":1157.2,"p":4867,"p2":4849}]},"mark":{"type":"rect","fill":"white","stroke":"#e3e3e3","strokeWidth":1,"cornerRadius":7},"encoding":{"x2":{"field":"m2"},"y2":{"field":"p2"}}},
{"data":{"values":[{"m":-46,"m2":55.7,"p":4864.8,"p2":4853.1}]},"mark":{"type":"rect","fill":"#ebebeb","cornerRadius":13},"encoding":{"x2":{"field":"m2"},"y2":{"field":"p2"}}},
{"data":{"values":[{"m":45.9,"p":4858.96}]},"mark":{"type":"point","shape":"circle","filled":true,"opacity":1,"color":"white","size":440},"encoding":{}},
{"data":{"values":[{"m":94.5,"p":4861.5,"p2":4856},{"m":136,"p":4861.5,"p2":4856},{"m":173,"p":4861.5,"p2":4856},{"m":328,"p":4861.5,"p2":4856},{"m":400,"p":4861.5,"p2":4856},{"m":517,"p":4861.5,"p2":4856}]},"mark":{"type":"rule","color":"#ececec","strokeWidth":1},"encoding":{"y2":{"field":"p2"}}},
{"data":{"values":[{"m":625.6,"p":4857.6}]},"mark":{"type":"point","filled":true,"opacity":1,"color":"#b8bac2","size":576,"shape":"M-.12,-.4h.1v.1h-.1ZM.1,-.4h.1v.1h-.1ZM-.12,-.05h.1v.1h-.1ZM.1,-.05h.1v.1h-.1ZM-.12,.3h.1v.1h-.1ZM.1,.3h.1v.1h-.1Z"},"encoding":{}},
{"data":{"values":[{"m":45.9,"p":4858.96,"i":"diamond"},{"m":75.2,"p":4858.96,"i":"plus"},{"m":156.5,"p":4858.96,"i":"candles"},{"m":193.9,"p":4858.96,"i":"chart"},{"m":285.7,"p":4858.96,"i":"chev"},{"m":311,"p":4858.96,"i":"squares"},{"m":348.3,"p":4858.96,"i":"alarm"},{"m":418.2,"p":4858.96,"i":"rewind"},{"m":533.7,"p":4858.96,"i":"undo"},{"m":650.8,"p":4857.6,"i":"t1"},{"m":681.6,"p":4857.6,"i":"t2"},{"m":712.5,"p":4857.6,"i":"t3"},{"m":743.4,"p":4857.6,"i":"t4"},{"m":774.3,"p":4857.6,"i":"t5"},{"m":805.2,"p":4857.6,"i":"t6"},{"m":836.1,"p":4857.6,"i":"t7"},{"m":867,"p":4857.6,"i":"t8"},{"m":897.9,"p":4857.6,"i":"t9"},{"m":928.8,"p":4857.6,"i":"t10"},{"m":960.5,"p":4857.6,"i":"t11"},{"m":990.6,"p":4857.6,"i":"t12"},{"m":1021.5,"p":4857.6,"i":"t13"},{"m":1052.4,"p":4857.6,"i":"t14"},{"m":1083.3,"p":4857.6,"i":"t15"},{"m":1114.2,"p":4857.6,"i":"t16"},{"m":1145.1,"p":4857.6,"i":"t17"}]},"mark":{"type":"point","filled":false,"opacity":1,"color":"#131722","strokeWidth":1,"size":576},"encoding":{"shape":{"field":"i","type":"nominal","legend":null,"scale":{"domain":["diamond","plus","candles","chart","chev","squares","alarm","rewind","undo","t1","t2","t3","t4","t5","t6","t7","t8","t9","t10","t11","t12","t13","t14","t15","t16","t17"],"range":["M-.5,-.35H.5L.75,-.1L0,.6L-.75,-.1ZM.15,-.05a.15,.15 0 1 0 -.3,0a.15,.15 0 1 0 .3,0","M.75,0a.75,.75 0 1 0 -1.5,0a.75,.75 0 1 0 1.5,0M0,-.42V.42M-.42,0H.42","M-.6,-.5H-.15V.5H-.6ZM-.38,-.85V-.5M-.38,.5V.85M.2,-.3H.65V.3H.2ZM.42,-.7V-.3M.42,.3V.7","M-.85,.85V.35H-.4V.85M-.4,.85V.1H.05V.85M.05,.85V-.2H.5V.85M-.85,.85H.85M-.85,-.05L-.3,-.5L.05,-.2L.8,-.85","M-.3,-.12L0,.15L.3,-.12","M-.7,-.7H-.1V-.1H-.7ZM.1,-.7H.7V-.1H.1ZM-.7,.1H-.1V.7H-.7ZM.1,.1H.7V.7H.1Z","M.2,.7A.7,.7 0 1 1 .65,.2M0,-.3V.1H.35M-.85,-.6L-.55,-.85M.55,-.85L.85,-.6M.6,.3V.95M.3,.65H.95","M-.05,-.45V.45L-.65,0ZM.55,-.45V.45L-.05,0Z","M-.55,-.3H.2C.9,-.3 .9,.55 .2,.55H-.1M-.25,-.6L-.55,-.3L-.25,0","M-.4,.6a.2,.2 0 1 0 -.4,0a.2,.2 0 1 0 .4,0M-.46,.46L.46,-.46M.8,-.6a.2,.2 0 1 0 -.4,0a.2,.2 0 1 0 .4,0M.05,-.3L.42,-.42L.3,-.05Z","M-.4,.6a.2,.2 0 1 0 -.4,0a.2,.2 0 1 0 .4,0M-.46,.46L.46,-.46M.8,-.6a.2,.2 0 1 0 -.4,0a.2,.2 0 1 0 .4,0","M-.55,.6a.2,.2 0 1 0 -.4,0a.2,.2 0 1 0 .4,0M-.6,.45L.15,-.45M.5,-.6a.2,.2 0 1 0 -.4,0a.2,.2 0 1 0 .4,0M.25,.25h.6v.6h-.6Z","M-.8,.85L-.44,.44M-.1,.3a.2,.2 0 1 0 -.4,0a.2,.2 0 1 0 .4,0M-.16,.16L.16,-.16M.5,-.3a.2,.2 0 1 0 -.4,0a.2,.2 0 1 0 .4,0M.44,-.44L.8,-.85","M-.9,0H-.2M.2,0a.2,.2 0 1 0 -.4,0a.2,.2 0 1 0 .4,0M.2,0H.9","M-.6,0a.2,.2 0 1 0 -.4,0a.2,.2 0 1 0 .4,0M-.6,0H.9","M0,-.9V-.2M.2,0a.2,.2 0 1 0 -.4,0a.2,.2 0 1 0 .4,0M0,.2V.9","M-.5,.4a.17,.17 0 1 0 -.34,0a.17,.17 0 1 0 .34,0M-.55,.27L-.05,-.42M.3,-.55a.17,.17 0 1 0 -.34,0a.17,.17 0 1 0 .34,0M-.2,.85L.2,.3M.55,.15a.17,.17 0 1 0 -.34,0a.17,.17 0 1 0 .34,0M.5,0L.8,-.4","M-.9,.7C-.9,.1 -.5,-.3 -.1,-.3C.1,.1 0,.5 -.1,.7ZM.05,-.5C.1,-.2 .5,-.2 .7,-.7","M-.5,-.65H.5M.65,-.5V.5M.5,.65H-.5M-.65,.5V-.5M-.5,-.65a.15,.15 0 1 0 -.3,0a.15,.15 0 1 0 .3,0M.8,-.65a.15,.15 0 1 0 -.3,0a.15,.15 0 1 0 .3,0M.8,.65a.15,.15 0 1 0 -.3,0a.15,.15 0 1 0 .3,0M-.5,.65a.15,.15 0 1 0 -.3,0a.15,.15 0 1 0 .3,0","M-.9,0C-.9,-.5 -.4,-.7 0,-.7C.4,-.7 .9,-.5 .9,0C.9,.5 .4,.7 0,.7C-.4,.7 -.9,.5 -.9,0ZM.15,-.7a.15,.15 0 1 0 -.3,0a.15,.15 0 1 0 .3,0M1.05,0a.15,.15 0 1 0 -.3,0a.15,.15 0 1 0 .3,0M.15,.7a.15,.15 0 1 0 -.3,0a.15,.15 0 1 0 .3,0M-.75,0a.15,.15 0 1 0 -.3,0a.15,.15 0 1 0 .3,0","M0,1C-.2,.6 -.65,.1 -.65,-.35C-.65,-.75 -.3,-1 0,-1C.3,-1 .65,-.75 .65,-.35C.65,.1 .2,.6 0,1ZM.25,-.35a.25,.25 0 1 0 -.5,0a.25,.25 0 1 0 .5,0","M-.65,-.7V-.85H.65V-.7M0,-.85V.85M-.25,.85H.25","M-.8,.85L-.35,-.05L-.5,-.2L.75,-.85L.25,.45L.05,.3Z","M-.35,-.85H.35V-.05H.85L0,.85L-.85,-.05H-.35Z","M-.35,.85H.35V.05H.85L0,-.85L-.85,.05H-.35Z","M-.65,-.95H.65V.3H-.65ZM0,.3V.55M.2,.75a.2,.2 0 1 0 -.4,0a.2,.2 0 1 0 .4,0M.25,-.55C.1,-.7 -.3,-.7 -.3,-.45C-.3,-.2 .3,-.25 .3,0C.3,.2 -.1,.2 -.3,.05M0,-.8V.15"]}}}},
{"data":{"values":[{"m":564.6,"p":4858.96}]},"mark":{"type":"point","filled":false,"opacity":1,"color":"#b2b5be","strokeWidth":1,"size":576,"shape":"M.55,-.3H-.2C-.9,-.3 -.9,.55 -.2,.55H.1M.25,-.6L.55,-.3L.25,0"},"encoding":{}},
{"data":{"values":[{"m":-37,"p":4858.96,"t":"PAXGUSDT"}]},"mark":{"type":"text","align":"left","fontSize":12.5,"fontWeight":"bold","color":"#131722"},"encoding":{"text":{"field":"t"}}},
{"data":{"values":[{"m":106.9,"p":4858.96,"t":"5dk"},{"m":208.5,"p":4858.96,"t":"Göstergeler"},{"m":364.6,"p":4858.96,"t":"Alarm"},{"m":432.1,"p":4858.96,"t":"Yeniden oynat"},{"m":1160.5,"p":4861.2,"t":"C USDT"}]},"mark":{"type":"text","align":"left","fontSize":13,"color":"#131722"},"encoding":{"text":{"field":"t"}}},
{"data":{"values":[{"m":1160.5,"p":4855.3,"t":"Kaydet"}]},"mark":{"type":"text","align":"left","fontSize":9,"color":"#2962ff"},"encoding":{"text":{"field":"t"}}},
{"data":{"values":[{"m":1160,"m2":1206,"p":4846,"p2":4835}]},"mark":{"type":"rect","fill":"white","stroke":"#eeeeee","cornerRadius":4},"encoding":{"x2":{"field":"m2"},"y2":{"field":"p2"}}},
{"data":{"values":[{"m":1163.7,"p":4840.9,"t":"USDT"}]},"mark":{"type":"text","align":"left","fontSize":11,"color":"#131722"},"encoding":{"text":{"field":"t"}}},
{"data":{"values":[{"m":1201,"p":4840.9}]},"mark":{"type":"point","filled":false,"opacity":1,"color":"#131722","size":144,"strokeWidth":1.2,"shape":"M-.3,-.12L0,.15L.3,-.12"},"encoding":{}},
{"data":{"values":[{"m":-33.7,"p":4841.3}]},"mark":{"type":"point","shape":"circle","filled":true,"opacity":0.2,"color":"#089981","size":200},"encoding":{}},
{"data":{"values":[{"m":-33.7,"p":4841.3}]},"mark":{"type":"point","shape":"circle","filled":true,"opacity":1,"color":"#0b7a68","size":50},"encoding":{}},
{"data":{"values":[{"m":-19.1,"p":4840.87,"t":"A"},{"m":33.7,"p":4840.87,"t":"Y"},{"m":86.6,"p":4840.87,"t":"D"},{"m":139.4,"p":4840.87,"t":"K"}]},"mark":{"type":"text","align":"left","fontSize":12,"color":"#b4b7c0"},"encoding":{"text":{"field":"t"}}},
{"data":{"values":[{"m":-12.2,"p":4840.87,"t":"4.663,26"},{"m":40.2,"p":4840.87,"t":"4.663,26"},{"m":93.1,"p":4840.87,"t":"4.651,21"},{"m":145.9,"p":4840.87,"t":"4.652,32"},{"m":192.3,"p":4840.87,"t":"−10,97 (−0,24%)"}]},"mark":{"type":"text","align":"left","fontSize":12,"color":"#ee6b70"},"encoding":{"text":{"field":"t"}}},
{"data":{"values":[{"m":-39.4,"m2":19.9,"p":4834.1,"p2":4819.2}]},"mark":{"type":"rect","fill":"white","stroke":"#f23645","cornerRadius":4},"encoding":{"x2":{"field":"m2"},"y2":{"field":"p2"}}},
{"data":{"values":[{"m":48.4,"m2":107.7,"p":4834.1,"p2":4819.2}]},"mark":{"type":"rect","fill":"white","stroke":"#2962ff","cornerRadius":4},"encoding":{"x2":{"field":"m2"},"y2":{"field":"p2"}}},
{"data":{"values":[{"m":-39.4,"m2":-13.4,"p":4815.1,"p2":4806.5}]},"mark":{"type":"rect","fill":"white","stroke":"#e4e4e4","cornerRadius":2},"encoding":{"x2":{"field":"m2"},"y2":{"field":"p2"}}},
{"data":{"values":[{"m":-9.8,"p":4829.6,"t":"4.652,31"}]},"mark":{"type":"text","fontSize":12,"fontWeight":600,"color":"#f23645"},"encoding":{"text":{"field":"t"}}},
{"data":{"values":[{"m":-9.8,"p":4823.2,"t":"SAT"}]},"mark":{"type":"text","fontSize":9.5,"color":"#f23645"},"encoding":{"text":{"field":"t"}}},
{"data":{"values":[{"m":77.6,"p":4829.6,"t":"4.652,32"}]},"mark":{"type":"text","fontSize":12,"fontWeight":600,"color":"#2962ff"},"encoding":{"text":{"field":"t"}}},
{"data":{"values":[{"m":77.6,"p":4823.2,"t":"AL"}]},"mark":{"type":"text","fontSize":9.5,"color":"#2962ff"},"encoding":{"text":{"field":"t"}}},
{"data":{"values":[{"m":33.7,"p":4826.4,"t":"0,01"}]},"mark":{"type":"text","fontSize":10,"color":"#131722"},"encoding":{"text":{"field":"t"}}},
{"data":{"values":[{"m":-20.7,"p":4810.8,"t":"3"}]},"mark":{"type":"text","fontSize":12,"color":"#131722"},"encoding":{"text":{"field":"t"}}},
{"data":{"values":[{"m":-31.3,"p":4810.8}]},"mark":{"type":"point","filled":false,"opacity":1,"color":"#131722","size":144,"strokeWidth":1.2,"shape":"M-.3,-.12L0,.15L.3,-.12"},"encoding":{}}
]},
{"encoding":{"y":{"field":"r","type":"quantitative","title":null,"scale":{"domain":[-6.2,81.9],"range":[885,722],"nice":false,"zero":false},"axis":{"orient":"right","offset":-63,"values":[80,60,40,20],"labelExpr":"replace(format(datum.value,'.2f'),'.',',')","labelColor":"#aeb1ba","labelFontSize":12,"labelPadding":9,"ticks":false,"domain":false,"grid":false,"labelOverlap":false,"labelBound":false,"labelFlush":false}}},
"layer":[
{"data":{"values":[{"m":-46,"m2":1157,"r":70,"r2":30}]},"mark":{"type":"rect","fill":"#7e57c2","fillOpacity":0.1},"encoding":{"x2":{"field":"m2"},"y2":{"field":"r2"}}},
{"data":{"values":[{"m":-46,"m2":1157,"r":70},{"m":-46,"m2":1157,"r":30}]},"mark":{"type":"rule","color":"#787b86","strokeWidth":1,"strokeDash":[5,4]},"encoding":{"x2":{"field":"m2"}}},
{"data":{"values":[{"m":-46,"m2":1157,"r":50}]},"mark":{"type":"rule","color":"#aeb1ba","strokeWidth":1,"strokeDash":[5,4]},"encoding":{"x2":{"field":"m2"}}},
{"data":{"values":[{"m":-46,"m2":1208.4,"r":81.9}]},"mark":{"type":"rule","color":"#131722","strokeWidth":1},"encoding":{"x2":{"field":"m2"}}},
{"data":{"values":[{"m":150,"r":81.9,"r2":9},{"m":550,"r":81.9,"r2":9},{"m":665,"r":81.9,"r2":9},{"m":900,"r":81.9,"r2":9},{"m":1080,"r":81.9,"r2":9}]},"mark":{"type":"rule","color":"#d8304a","strokeWidth":1},"encoding":{"y2":{"field":"r2"}}},
{"data":{"values":[{"m":995,"r":81.9,"r2":9}]},"mark":{"type":"rule","color":"#3f9a4c","strokeWidth":1},"encoding":{"y2":{"field":"r2"}}},
{"data":{"name":"rsilow"},"mark":{"type":"area","color":"#f23645","opacity":0.22},"encoding":{"y2":{"datum":30},"detail":{"field":"s"}}},
{"data":{"name":"rsima"},"mark":{"type":"line","color":"#f7931e","strokeWidth":2},"encoding":{}},
{"data":{"name":"rsi"},"mark":{"type":"line","color":"#3a5fe0","strokeWidth":2},"encoding":{}},
{"data":{"values":[{"m":-24.8,"r":20.3}]},"mark":{"type":"point","filled":true,"opacity":1,"color":"#000000","size":1024,"shape":"M-1,-.45L-.1,-.45L-.1,.45L-.5,.45L-.5,-.05L-1,-.05ZM.25,-.25a.17,.17 0 1 0 -.34,0a.17,.17 0 1 0 .34,0ZM.55,-.45L1,-.45L.55,.45L.1,.45Z"},"encoding":{}},
{"data":{"values":[{"m":97.1,"m2":202.8,"r":8.9,"r2":-4.2},{"m":497.1,"m2":602.8,"r":8.9,"r2":-4.2},{"m":612.6,"m2":718.3,"r":8.9,"r2":-4.2},{"m":847.5,"m2":953.2,"r":8.9,"r2":-4.2}]},"mark":{"type":"rect","fill":"#f23645"},"encoding":{"x2":{"field":"m2"},"y2":{"field":"r2"}}},
{"data":{"values":[{"m":953.2,"m2":1027.2,"r":8.9,"r2":-4.2}]},"mark":{"type":"rect","fill":"#4caf50"},"encoding":{"x2":{"field":"m2"},"y2":{"field":"r2"}}},
{"data":{"values":[{"m":1027.2,"m2":1132.9,"r":8.9,"r2":-4.2}]},"mark":{"type":"rect","fill":"#f23645"},"encoding":{"x2":{"field":"m2"},"y2":{"field":"r2"}}},
{"data":{"values":[{"m":150,"r":1.6,"t":"Per 02 Nis '26\u00a0\u00a0\u00a002:30"},{"m":550,"r":1.6,"t":"Per 02 Nis '26\u00a0\u00a0\u00a009:10"},{"m":665,"r":1.6,"t":"Per 02 Nis '26\u00a0\u00a0\u00a011:05"},{"m":900,"r":1.6,"t":"Per 02 Nis '26\u00a0\u00a0\u00a015:00"},{"m":990,"r":1.6,"t":"er 02 Nis '26\u00a0\u00a0\u00a016"},{"m":1080,"r":1.6,"t":"Per 02 Nis '26\u00a0\u00a0\u00a018:00"}]},"mark":{"type":"text","fontSize":11.5,"fontWeight":500,"color":"white"},"encoding":{"text":{"field":"t"}}},
{"data":{"values":[{"m":1184,"r":1.35}]},"mark":{"type":"point","filled":false,"opacity":1,"color":"#131722","strokeWidth":1.1,"size":576,"shape":"M-.55,0L-.27,-.47H.27L.55,0L.27,.47H-.27ZM.13,0a.13,.13 0 1 0 -.26,0a.13,.13 0 1 0 .26,0"},"encoding":{}}
]}
]}
